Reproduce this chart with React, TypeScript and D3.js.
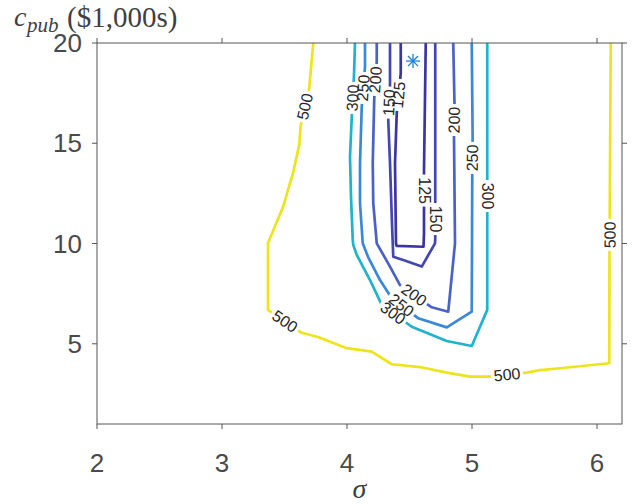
import React from 'react';
import * as d3 from 'd3';

const W = 636;
const H = 504;

const xTicks = [2, 3, 4, 5, 6];
const yTicks = [5, 10, 15, 20];
const sigmaRange = [2, 6.2];
const costRange = [1, 20];

const levels = [125, 150, 200, 250, 300, 500];
const levelColors = ['#3b35a3', '#4447b3', '#4a62c6', '#3a89d8', '#1fb3cd', '#ede51b'];

// contour polylines [sigma, c_pub]
const contour125 = [[4.430, 20.0], [4.430, 18.49], [4.398, 16.50], [4.384, 14.0], [4.392, 10.01], [4.397, 9.88], [4.612, 9.84], [4.616, 10.51], [4.616, 13.67], [4.630, 20.0]];
const contour150 = [[4.344, 20.0], [4.344, 17.91], [4.330, 16.16], [4.344, 14.0], [4.358, 11.34], [4.370, 9.34], [4.450, 9.18], [4.598, 8.85], [4.704, 10.01], [4.706, 10.26], [4.706, 20.0]];
const contour200 = [[4.238, 20.0], [4.238, 19.07], [4.218, 17.24], [4.206, 14.0], [4.210, 12.01], [4.238, 10.01], [4.344, 8.85], [4.424, 7.93], [4.678, 6.82], [4.810, 6.60], [4.864, 10.01], [4.856, 15.33], [4.860, 16.91], [4.850, 20.0]];
const contour250 = [[4.144, 20.0], [4.144, 18.82], [4.118, 16.83], [4.104, 14.0], [4.104, 12.01], [4.126, 10.01], [4.168, 9.34], [4.264, 8.18], [4.350, 7.35], [4.570, 6.27], [4.798, 5.82], [4.998, 6.60], [5.002, 13.42], [5.005, 15.33], [4.998, 20.0]];
const contour300 = [[4.064, 20.0], [4.056, 18.41], [4.038, 16.31], [4.024, 14.33], [4.032, 12.34], [4.046, 10.18], [4.050, 9.93], [4.078, 9.43], [4.184, 8.18], [4.278, 6.94], [4.518, 5.85], [4.798, 5.14], [4.998, 4.89], [5.064, 5.85], [5.122, 6.69], [5.122, 20.0]];
const contour500 = [[3.730, 20.0], [3.698, 17.76], [3.630, 15.91], [3.618, 14.92], [3.568, 13.52], [3.488, 11.82], [3.368, 10.03], [3.368, 6.69], [3.638, 5.55], [3.768, 5.34], [3.998, 4.78], [4.198, 4.61], [4.358, 3.98], [4.584, 3.84], [4.798, 3.56], [4.984, 3.36], [5.128, 3.36], [5.438, 3.56], [5.544, 3.69], [5.704, 3.78], [6.098, 4.03], [6.100, 9.58], [6.110, 20.0]];

// label anchor points [sigma, c_pub]
const labels125 = [[4.413, 17.41], [4.616, 12.64]];
const labels150 = [[4.337, 17.03], [4.706, 11.22]];
const labels200 = [[4.228, 18.16], [4.536, 7.44], [4.858, 16.16]];
const labels250 = [[4.130, 17.76], [4.436, 6.93], [5.003, 14.27]];
const labels300 = [[4.046, 17.26], [4.368, 6.53], [5.122, 12.37]];
const labels500 = [[3.664, 16.83], [3.504, 6.12], [5.280, 3.46], [6.104, 10.43]];

const contourLines = [contour125, contour150, contour200, contour250, contour300, contour500];
const contourLabels = [labels125, labels150, labels200, labels250, labels300, labels500];

const optimum = [4.528, 19.1];

function labelAngle(pts: number[][], lx: number, ly: number): number {
  let best = Infinity;
  let ang = 0;
  for (let i = 0; i < pts.length - 1; i++) {
    const [x1, y1] = pts[i];
    const [x2, y2] = pts[i + 1];
    const dx = x2 - x1;
    const dy = y2 - y1;
    const L2 = dx * dx + dy * dy;
    let t = L2 ? ((lx - x1) * dx + (ly - y1) * dy) / L2 : 0;
    t = Math.max(0, Math.min(1, t));
    const px = x1 + t * dx;
    const py = y1 + t * dy;
    const d = (px - lx) ** 2 + (py - ly) ** 2;
    if (d < best) {
      best = d;
      ang = (Math.atan2(dy, dx) * 180) / Math.PI;
    }
  }
  while (ang > 90) ang -= 180;
  while (ang <= -90) ang += 180;
  return ang;
}

export default function App() {
  const left = 97, right = 622, top = 43, bottom = 424;
  const x = d3.scaleLinear().domain(sigmaRange).range([left, right]);
  const y = d3.scaleLinear().domain(costRange).range([bottom, top]);
  const line = d3.line<number[]>().x((d) => x(d[0])).y((d) => y(d[1]));

  const axisColor = '#555555';
  const tickLen = 5;
  const labelFont = 16;
  const gapW = 32;
  const gapH = 14;

  const starR = 7;
  const sx = x(optimum[0]);
  const sy = y(optimum[1]);

  return (
    <svg
      width={W}
      height={H}
      style={{ position: 'fixed', left: 0, top: 0, background: '#fff' }}
      xmlns="http://www.w3.org/2000/svg"
    >
      <defs>
        <clipPath id="plotClip">
          <rect x={left} y={top} width={right - left} height={bottom - top} />
        </clipPath>
        {levels.map((lv, i) => (
          <mask key={lv} id={`mask-${lv}`} maskUnits="userSpaceOnUse" x={0} y={0} width={W} height={H}>
            <rect x={0} y={0} width={W} height={H} fill="white" />
            {contourLabels[i].map((p, j) => {
              const px = x(p[0]);
              const py = y(p[1]);
              const pix = contourLines[i].map((d) => [x(d[0]), y(d[1])]);
              const a = labelAngle(pix, px, py);
              return (
                <rect
                  key={j}
                  x={-gapW / 2}
                  y={-gapH / 2}
                  width={gapW}
                  height={gapH}
                  fill="black"
                  transform={`translate(${px},${py}) rotate(${a})`}
                />
              );
            })}
          </mask>
        ))}
      </defs>

      <rect x={0} y={0} width={W} height={H} fill="#fff" />

      {/* contour lines */}
      <g clipPath="url(#plotClip)">
        {levels.map((lv, i) => (
          <path
            key={lv}
            d={line(contourLines[i]) || ''}
            fill="none"
            stroke={levelColors[i]}
            strokeWidth={2.7}
            strokeLinejoin="round"
            mask={`url(#mask-${lv})`}
          />
        ))}
      </g>

      {/* contour labels */}
      {levels.map((lv, i) => {
        const pix = contourLines[i].map((d) => [x(d[0]), y(d[1])]);
        return contourLabels[i].map((p, j) => {
          const px = x(p[0]);
          const py = y(p[1]);
          const a = labelAngle(pix, px, py);
          return (
            <text
              key={`${lv}-${j}`}
              transform={`translate(${px},${py}) rotate(${a})`}
              textAnchor="middle"
              dominantBaseline="central"
              fontFamily="'Liberation Sans', Arial, sans-serif"
              fontSize={labelFont}
              fill="#262626"
            >
              {lv}
            </text>
          );
        });
      })}

      {/* optimum marker */}
      <g stroke="#1a7fd8" strokeWidth={1.3}>
        <line x1={sx - starR} y1={sy} x2={sx + starR} y2={sy} />
        <line x1={sx} y1={sy - starR} x2={sx} y2={sy + starR} />
        <line x1={sx - starR * 0.72} y1={sy - starR * 0.72} x2={sx + starR * 0.72} y2={sy + starR * 0.72} />
        <line x1={sx - starR * 0.72} y1={sy + starR * 0.72} x2={sx + starR * 0.72} y2={sy - starR * 0.72} />
      </g>

      {/* axes box */}
      <rect x={left} y={top} width={right - left} height={bottom - top} fill="none" stroke={axisColor} strokeWidth={1} />
      {xTicks.map((t) => (
        <g key={`xt${t}`} stroke={axisColor}>
          <line x1={x(t)} x2={x(t)} y1={bottom} y2={bottom + tickLen} />
          <line x1={x(t)} x2={x(t)} y1={top} y2={top - tickLen} />
        </g>
      ))}
      {yTicks.map((t) => (
        <g key={`yt${t}`} stroke={axisColor}>
          <line x1={left} x2={left - tickLen} y1={y(t)} y2={y(t)} />
          <line x1={right} x2={right + tickLen} y1={y(t)} y2={y(t)} />
        </g>
      ))}
      {xTicks.map((t) => (
        <text
          key={`xl${t}`}
          x={x(t)}
          y={472}
          textAnchor="middle"
          fontFamily="'Liberation Sans', Arial, sans-serif"
          fontSize={26}
          fill="#4a4a4a"
        >
          {t}
        </text>
      ))}
      {yTicks.map((t) => (
        <text
          key={`yl${t}`}
          x={82}
          y={y(t)}
          textAnchor="end"
          dominantBaseline="central"
          fontFamily="'Liberation Sans', Arial, sans-serif"
          fontSize={26}
          fill="#4a4a4a"
        >
          {t}
        </text>
      ))}

      {/* axis labels */}
      <text
        x={(left + right) / 2}
        y={498}
        textAnchor="middle"
        fontFamily="'Liberation Serif', 'DejaVu Serif', serif"
        fontStyle="italic"
        fontSize={28}
        fill="#404040"
      >
        σ
      </text>
      <text fontFamily="'Liberation Serif', 'DejaVu Serif', serif" fill="#404040">
        <tspan x={14} y={26} fontStyle="italic" fontSize={28}>c</tspan>
        <tspan x={27} y={32} fontStyle="italic" fontSize={21}>pub</tspan>
        <tspan x={67} y={27} fontSize={29}>($1,000s)</tspan>
      </text>
    </svg>
  );
}
